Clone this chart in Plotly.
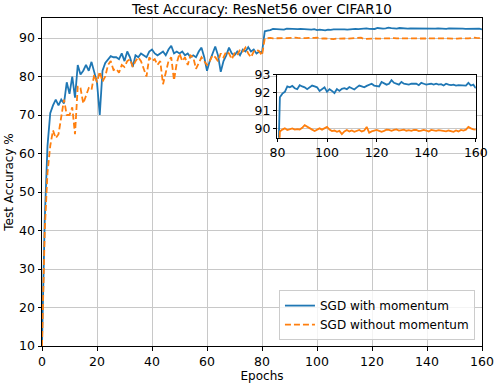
import plotly.graph_objects as go

epochs = list(range(161))

sgd_momentum = [
    10.5, 43, 62, 70.5, 72.5, 74, 72.5, 74, 73, 78.5,
    75.5, 80, 74.5, 83, 80.5, 81.5, 83, 81.5, 83.8, 81,
    78.5, 70, 81.5, 83.5, 84.4, 85.3, 85, 85, 84.5, 86,
    84, 86.5, 85, 82.5, 85.5, 85, 86, 85.5, 85, 86.5,
    87, 86, 85.5, 86, 86.5, 85.5, 87, 88, 86, 86.5,
    86, 86.5, 85.5, 86, 85, 85.5, 85, 86.5, 87.5, 85,
    81.5, 84, 86, 87.8, 85.5, 81.2, 84, 85.5, 87.5, 86,
    85.5, 86.5, 85.5, 87, 86.5, 87.6, 86.5, 87, 86, 86.5,
    86.2,
    91.75, 91.95, 92.05, 92.35, 92.3, 92.38, 92.25, 92.2, 92.42, 92.35,
    92.3, 92.2, 92.32, 92.4, 92.35, 92.3, 92.1, 92.2, 92.3, 92.05,
    92.2, 92.1, 91.98, 92.2, 92.1, 92.22, 92.25, 92.2, 92.32, 92.25,
    92.18, 92.3, 92.4, 92.35, 92.3, 92.38, 92.45, 92.5, 92.4, 92.38,
    92.35, 92.6, 92.5, 92.45, 92.5, 92.7, 92.55, 92.5, 92.45, 92.6,
    92.5, 92.48, 92.45, 92.5, 92.48, 92.5, 92.42, 92.55, 92.5, 92.45,
    92.48, 92.5, 92.45, 92.5, 92.45, 92.48, 92.4, 92.5, 92.45, 92.42,
    92.45, 92.4, 92.42, 92.4, 92.42, 92.4, 92.55, 92.4, 92.45, 92.25,
]

sgd_no_momentum = [
    10, 40, 55, 62, 66, 64, 65, 70, 74, 70,
    70, 72, 65, 77.5, 77, 73, 75, 77, 76.5, 80.5,
    78.5, 81.3, 78.7, 80, 83, 84, 81.7, 82, 81, 83,
    82.5, 84, 84.5, 82.5, 84, 85, 84, 82, 80, 85,
    84, 84.5, 83, 84, 78, 81, 84, 85, 79, 83.5,
    86, 84, 85, 83, 85.5, 85, 82, 83.5, 85, 84,
    83, 84, 85.5, 85, 84, 86, 85, 86.5, 86, 84.5,
    86, 85.5, 87, 86.5, 87.5, 86, 85, 86.5, 87, 86.5,
    85.5,
    89.85, 89.95, 90.02, 89.93, 89.98, 90.02, 89.95, 89.98, 89.96, 90.05,
    90.2, 90.1, 90.02, 89.95, 89.87, 89.95, 90.02, 89.95, 90.05, 90.1,
    89.95, 89.87, 89.9, 89.83, 89.88, 89.7, 89.85, 89.93, 89.85, 89.9,
    89.83, 89.88, 89.93, 89.85, 89.9, 90.1, 89.78, 89.85, 89.9, 89.93,
    89.88, 89.83, 89.88, 89.95, 89.93, 89.88, 89.93, 89.96, 89.9, 89.93,
    89.95, 89.89, 89.92, 89.88, 89.93, 89.93, 89.87, 89.89, 89.93, 89.9,
    89.85, 89.93, 89.9, 89.88, 89.92, 89.9, 89.89, 89.85, 89.9, 89.88,
    89.83, 89.9, 89.85, 89.93, 89.9, 89.95, 90.1, 90.02, 89.96, 89.95,
]

x_ticks = [0, 20, 40, 60, 80, 100, 120, 140, 160]
y_ticks = [10, 20, 30, 40, 50, 60, 70, 80, 90]
inset_x_ticks = [80, 100, 120, 140, 160]
inset_y_ticks = [90, 91, 92, 93]

BLUE = "#1f77b4"
ORANGE = "#ff7f0e"
FONT = "DejaVu Sans"

fig = go.Figure()
fig.add_trace(go.Scatter(x=epochs, y=sgd_momentum, mode="lines", name="SGD with momentum",
                         line=dict(color=BLUE, width=1.8), xaxis="x", yaxis="y"))
fig.add_trace(go.Scatter(x=epochs, y=sgd_no_momentum, mode="lines", name="SGD without momentum",
                         line=dict(color=ORANGE, width=1.8, dash="6px,3px"), xaxis="x", yaxis="y"))
fig.add_trace(go.Scatter(x=epochs[80:], y=sgd_momentum[80:], mode="lines", showlegend=False,
                         line=dict(color=BLUE, width=1.8), xaxis="x2", yaxis="y2"))
fig.add_trace(go.Scatter(x=epochs[80:], y=sgd_no_momentum[80:], mode="lines", showlegend=False,
                         line=dict(color=ORANGE, width=1.8), xaxis="x2", yaxis="y2"))

axis_common = dict(showline=True, linecolor="black", linewidth=1, mirror=True,
                   ticks="outside", ticklen=3.5, tickwidth=1, tickcolor="black",
                   showgrid=True, gridcolor="#c8c8c8", gridwidth=1, zeroline=False,
                   automargin=False,
                   tickfont=dict(family=FONT, size=12.5, color="black"))

fig.update_layout(
    width=494, height=386,
    margin=dict(l=42, r=12, t=18, b=40, autoexpand=False),
    paper_bgcolor="white", plot_bgcolor="white",
    font=dict(family=FONT, color="black"),
    title=dict(text="Test Accuracy: ResNet56 over CIFAR10", x=0.5, xref="paper",
               y=1 - 9 / 386, yref="container", yanchor="middle", xanchor="center",
               font=dict(family=FONT, size=13.5, color="black")),
    xaxis=dict(domain=[0, 1], range=[0, 160], tickvals=x_ticks, anchor="y",
               title=dict(text="Epochs", font=dict(family=FONT, size=12, color="black"), standoff=4),
               **axis_common),
    yaxis=dict(domain=[0, 1], range=[10, 95.2], tickvals=y_ticks, anchor="x",
               title=dict(text="Test Accuracy %", font=dict(family=FONT, size=12, color="black"), standoff=2),
               **axis_common),
    xaxis2=dict(domain=[0.535, 0.986], range=[80, 160], tickvals=inset_x_ticks, anchor="y2",
                **axis_common),
    yaxis2=dict(domain=[0.635, 0.827], range=[89.5, 93], tickvals=inset_y_ticks, anchor="x2",
                **axis_common),
    legend=dict(x=0.984, y=0.018, xanchor="right", yanchor="bottom",
                bgcolor="rgba(255,255,255,0.8)", bordercolor="#cccccc", borderwidth=1,
                font=dict(family=FONT, size=12, color="black"), tracegroupgap=0),
    showlegend=True,
)

fig.write_html("out.html", config={"displayModeBar": False},
               post_script="document.body.style.margin='0';document.body.style.padding='0';")
